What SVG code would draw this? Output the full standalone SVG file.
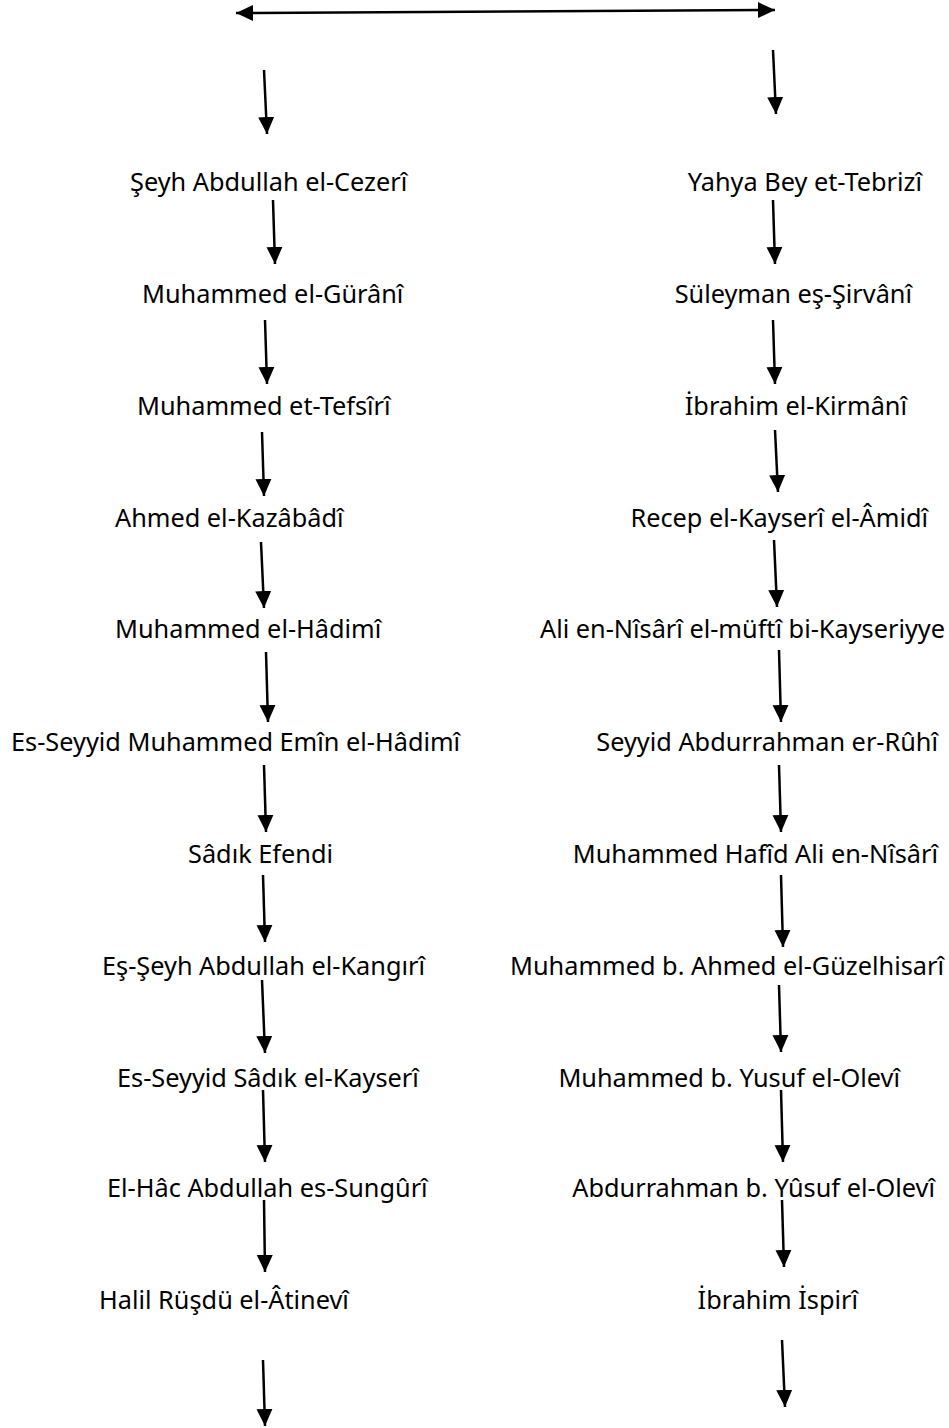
<svg xmlns="http://www.w3.org/2000/svg" width="949" height="1428" viewBox="0 0 949 1428">
<style>
text{font-family:"Noto Sans","Open Sans","DejaVu Sans",sans-serif;font-size:25.3px;fill:#000}
text.l{text-anchor:start}
text.r{text-anchor:end}
.c line{stroke:#000;stroke-width:2.5;marker-end:url(#ah)}
</style>
<defs>
<marker id="ah" markerUnits="userSpaceOnUse" markerWidth="18" markerHeight="18" refX="17" refY="8" orient="auto-start-reverse" viewBox="0 0 18 16">
<path d="M0,0 L17,8 L0,16 z" fill="#000"/>
</marker>
</defs>
<g id="connectors" class="c">
<line x1="236" y1="13" x2="775" y2="10" style="marker-start:url(#ah)"/>
<line x1="264" y1="70" x2="267" y2="134"/>
<line x1="773" y1="50" x2="776" y2="114"/>
<line x1="273" y1="200" x2="275" y2="264"/>
<line x1="265" y1="320" x2="267" y2="384"/>
<line x1="262" y1="432" x2="264" y2="496"/>
<line x1="261" y1="542" x2="264" y2="608"/>
<line x1="266" y1="652" x2="268" y2="722"/>
<line x1="264" y1="765" x2="266" y2="832"/>
<line x1="263" y1="875" x2="265" y2="942"/>
<line x1="262" y1="980" x2="265" y2="1053"/>
<line x1="263" y1="1090" x2="265" y2="1162"/>
<line x1="264" y1="1200" x2="265" y2="1272"/>
<line x1="263" y1="1360" x2="265" y2="1426"/>
<line x1="773" y1="200" x2="775" y2="264"/>
<line x1="773" y1="320" x2="775" y2="384"/>
<line x1="775" y1="430" x2="778" y2="492"/>
<line x1="774" y1="540" x2="777" y2="607"/>
<line x1="779" y1="650" x2="781" y2="722"/>
<line x1="779" y1="765" x2="781" y2="832"/>
<line x1="781" y1="875" x2="783" y2="947"/>
<line x1="779" y1="985" x2="781" y2="1052"/>
<line x1="781" y1="1090" x2="783" y2="1162"/>
<line x1="782" y1="1200" x2="784" y2="1267"/>
<line x1="782" y1="1340" x2="785" y2="1407"/>
</g>
<g id="n1"><text class="l" x="130" y="191">Şeyh Abdullah el-Cezerî</text></g>
<g id="n2"><text class="l" x="142" y="303">Muhammed el-Gürânî</text></g>
<g id="n3"><text class="l" x="137" y="415">Muhammed et-Tefsîrî</text></g>
<g id="n4"><text class="l" x="115" y="527">Ahmed el-Kazâbâdî</text></g>
<g id="n5"><text class="l" x="115" y="638">Muhammed el-Hâdimî</text></g>
<g id="n6"><text class="l" x="11" y="751">Es-Seyyid Muhammed Emîn el-Hâdimî</text></g>
<g id="n7"><text class="l" x="188" y="863">Sâdık Efendi</text></g>
<g id="n8"><text class="l" x="102" y="975">Eş-Şeyh Abdullah el-Kangırî</text></g>
<g id="n9"><text class="l" x="117" y="1087">Es-Seyyid Sâdık el-Kayserî</text></g>
<g id="n10"><text class="l" x="107" y="1197">El-Hâc Abdullah es-Sungûrî</text></g>
<g id="n11"><text class="l" x="99" y="1309">Halil Rüşdü el-Âtinevî</text></g>
<g id="n12"><text class="r" x="922" y="191">Yahya Bey et-Tebrizî</text></g>
<g id="n13"><text class="r" x="912" y="303">Süleyman eş-Şirvânî</text></g>
<g id="n14"><text class="r" x="907" y="415">İbrahim el-Kirmânî</text></g>
<g id="n15"><text class="r" x="928" y="527">Recep el-Kayserî el-Âmidî</text></g>
<g id="n16"><text class="r" x="945" y="638">Ali en-Nîsârî el-müftî bi-Kayseriyye</text></g>
<g id="n17"><text class="r" x="938" y="751">Seyyid Abdurrahman er-Rûhî</text></g>
<g id="n18"><text class="r" x="938" y="863">Muhammed Hafîd Ali en-Nîsârî</text></g>
<g id="n19"><text class="r" x="944" y="975">Muhammed b. Ahmed el-Güzelhisarî</text></g>
<g id="n20"><text class="r" x="900" y="1087">Muhammed b. Yusuf el-Olevî</text></g>
<g id="n21"><text class="r" x="935" y="1197">Abdurrahman b. Yûsuf el-Olevî</text></g>
<g id="n22"><text class="r" x="858" y="1309">İbrahim İspirî</text></g>
</svg>
